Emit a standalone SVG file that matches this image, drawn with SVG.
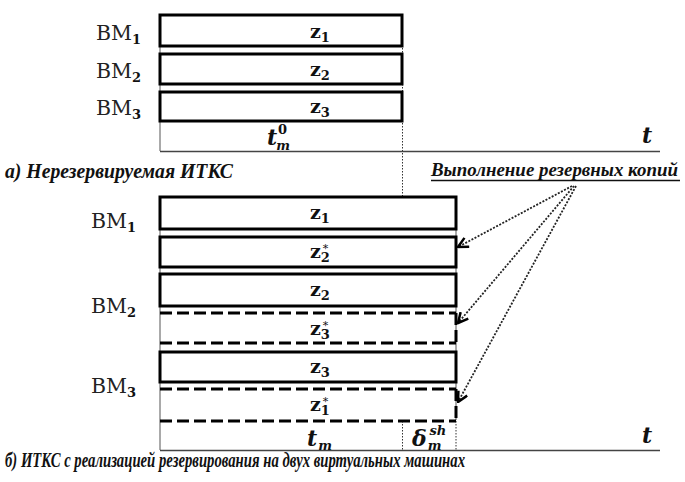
<svg xmlns="http://www.w3.org/2000/svg" width="685" height="482" viewBox="0 0 685 482">
<style>
.bm{font-family:"DejaVu Serif","Liberation Serif",serif;font-size:20.5px;fill:#222}
.sub{font-family:"DejaVu Serif","Liberation Serif",serif;font-size:13px;font-weight:bold;font-style:normal;fill:#111}
.z{font-family:"DejaVu Serif","Liberation Serif",serif;font-size:19px;font-weight:bold;fill:#111}
.star{font-family:"DejaVu Serif",serif;font-size:11px;font-weight:normal;fill:#111}
.t{font-family:"DejaVu Serif","Liberation Serif",serif;font-size:22px;font-weight:bold;font-style:italic;fill:#111}
.ts{font-family:"DejaVu Serif","Liberation Serif",serif;font-size:13px;font-weight:bold;font-style:italic;fill:#111}
.cap{font-family:"Liberation Serif",serif;font-size:20px;font-weight:bold;font-style:italic;fill:#111}
.cap2{font-family:"Liberation Serif",serif;font-size:18px;font-weight:bold;font-style:italic;fill:#111}
.box{fill:none;stroke:#000;stroke-width:3}
.dash{fill:none;stroke:#000;stroke-width:3;stroke-dasharray:12 5}
.thin{fill:none;stroke:#555;stroke-width:1}
.dot{fill:none;stroke:#333;stroke-width:1;stroke-dasharray:1.5 1.5}
.axis{fill:none;stroke:#444;stroke-width:1.5}
.arr{fill:none;stroke:#222;stroke-width:1.8;stroke-dasharray:2 1.5}
</style>
<defs>
<marker id="ah" viewBox="0 0 12 12" refX="11" refY="6" markerWidth="12" markerHeight="12" markerUnits="userSpaceOnUse" orient="auto">
<path d="M1,1 L11,6 L1,11" fill="none" stroke="#000" stroke-width="2.5"/>
</marker>
</defs>

<!-- Part a -->
<g id="axis-a">
<line class="thin" x1="160" y1="15" x2="160" y2="151"/>
<line class="dot" x1="402.5" y1="15" x2="402.5" y2="197"/>
<line class="axis" x1="160" y1="151.5" x2="660" y2="151.5"/>
<text class="t" x="267" y="145">t<tspan class="ts" dx="-1" dy="5">m</tspan><tspan class="sub" dx="-12" dy="-16">0</tspan></text>
<text class="t" x="642" y="143">t</text>
</g>
<g id="a-bm1"><text class="bm" x="96" y="40">BM<tspan class="sub" dy="4">1</tspan></text></g>
<g id="a-bm2"><text class="bm" x="96" y="78">BM<tspan class="sub" dy="4">2</tspan></text></g>
<g id="a-bm3"><text class="bm" x="96" y="115">BM<tspan class="sub" dy="4">3</tspan></text></g>
<g id="a-z1"><rect class="box" x="160" y="15" width="242" height="31"/><text class="z" x="310" y="38">z<tspan class="sub" dy="4">1</tspan></text></g>
<g id="a-z2"><rect class="box" x="160" y="54" width="242" height="30"/><text class="z" x="310" y="76">z<tspan class="sub" dy="4">2</tspan></text></g>
<g id="a-z3"><rect class="box" x="160" y="92" width="242" height="29"/><text class="z" x="310" y="113">z<tspan class="sub" dy="4">3</tspan></text></g>
<g id="cap-a"><text class="cap" x="5" y="178" textLength="228" lengthAdjust="spacingAndGlyphs">а) Нерезервируемая ИТКС</text></g>
<g id="cap-copies">
<text class="cap2" x="431" y="176" textLength="247" lengthAdjust="spacingAndGlyphs">Выполнение резервных копий</text>
<line x1="431" y1="180.5" x2="680" y2="180.5" stroke="#111" stroke-width="1.3"/>
</g>

<!-- Part b -->
<g id="axis-b">
<line class="thin" x1="160" y1="197" x2="160" y2="450"/>
<line class="thin" x1="456" y1="197" x2="456" y2="420"/>
<line class="dot" x1="402.5" y1="421" x2="402.5" y2="450"/>
<line class="dot" x1="456" y1="421" x2="456" y2="450"/>
<line class="axis" x1="160" y1="450.5" x2="660" y2="450.5"/>
<text class="t" x="307" y="446">t<tspan class="ts" dx="1" dy="4">m</tspan></text>
<text class="t" x="412" y="446">δ<tspan class="ts" dx="1" dy="4">m</tspan><tspan class="ts" dx="-12" dy="-15">sh</tspan></text>
<text class="t" x="642" y="443">t</text>
</g>
<g id="b-bm1"><text class="bm" x="91" y="228">BM<tspan class="sub" dy="4">1</tspan></text></g>
<g id="b-bm2"><text class="bm" x="91" y="313">BM<tspan class="sub" dy="4">2</tspan></text></g>
<g id="b-bm3"><text class="bm" x="91" y="393">BM<tspan class="sub" dy="4">3</tspan></text></g>
<g id="b-z1"><rect class="box" x="160" y="197" width="296" height="32"/><text class="z" x="310" y="219">z<tspan class="sub" dy="4">1</tspan></text></g>
<g id="b-z2s"><rect class="box" x="160" y="237" width="296" height="30"/><text class="z" x="310" y="258">z<tspan class="sub" dy="4">2</tspan><tspan class="star" dx="-7" dy="-10">*</tspan></text></g>
<g id="b-z2"><rect class="box" x="160" y="274" width="296" height="32"/><text class="z" x="310" y="296">z<tspan class="sub" dy="4">2</tspan></text></g>
<g id="b-z3s">
<path class="dash" d="M160,313 H456 M456,313 V343 M160,343 H456"/>
<text class="z" x="310" y="335">z<tspan class="sub" dy="4">3</tspan><tspan class="star" dx="-7" dy="-10">*</tspan></text></g>
<g id="b-z3"><rect class="box" x="160" y="352" width="296" height="30"/><text class="z" x="310" y="373">z<tspan class="sub" dy="4">3</tspan></text></g>
<g id="b-z1s">
<path class="dash" d="M160,389 H456 M456,389 V421 M160,421 H456"/>
<text class="z" x="310" y="411">z<tspan class="sub" dy="4">1</tspan><tspan class="star" dx="-7" dy="-10">*</tspan></text></g>
<g id="cap-b"><text class="cap" x="5" y="467" textLength="460" lengthAdjust="spacingAndGlyphs">б) ИТКС с реализацией резервирования на двух виртуальных машинах</text></g>

<g id="connectors">
<line class="arr" x1="572" y1="186" x2="458" y2="247" marker-end="url(#ah)"/>
<line class="arr" x1="574" y1="186" x2="458" y2="323" marker-end="url(#ah)"/>
<line class="arr" x1="576" y1="186" x2="458" y2="402" marker-end="url(#ah)"/>
</g>
</svg>
